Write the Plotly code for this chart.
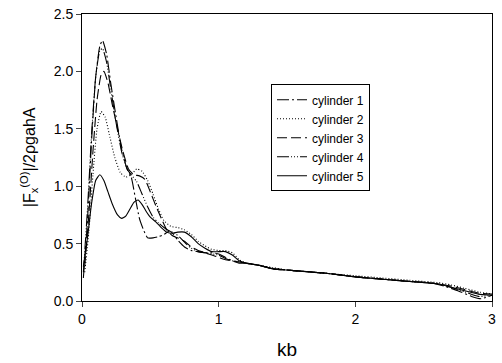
import plotly.graph_objects as go

# ---- data ----
kb1 = [0.01, 0.04, 0.07, 0.10, 0.13, 0.15, 0.18, 0.21, 0.25, 0.29, 0.33, 0.36, 0.39, 0.42, 0.45,
       0.48, 0.52, 0.56, 0.60, 0.64, 0.67, 0.70, 0.75, 0.80, 0.85, 0.90, 0.95, 1.00, 1.05, 1.10,
       1.15, 1.20, 1.30, 1.40, 1.50, 1.60, 1.80, 2.00, 2.20, 2.40, 2.55, 2.65, 2.75, 2.85, 2.92, 3.00]
F1 = [0.20, 0.70, 1.40, 1.95, 2.22, 2.27, 2.15, 1.90, 1.60, 1.32, 1.15, 1.08, 0.90, 0.72, 0.62,
      0.55, 0.55, 0.56, 0.58, 0.61, 0.58, 0.53, 0.47, 0.44, 0.43, 0.42, 0.42, 0.41, 0.38, 0.35,
      0.33, 0.33, 0.31, 0.28, 0.27, 0.26, 0.24, 0.21, 0.19, 0.17, 0.16, 0.13, 0.09, 0.04, 0.02, 0.05]

kb2 = [0.02, 0.05, 0.08, 0.11, 0.14, 0.17, 0.20, 0.24, 0.28, 0.32, 0.36, 0.40, 0.44, 0.48, 0.52,
       0.56, 0.60, 0.65, 0.70, 0.75, 0.80, 0.85, 0.90, 0.95, 1.00, 1.05, 1.10, 1.15, 1.20, 1.30,
       1.40, 1.50, 1.60, 1.80, 2.00, 2.20, 2.40, 2.60, 2.70, 2.80, 2.90, 3.00]
F2 = [0.25, 0.60, 1.10, 1.50, 1.65, 1.60, 1.45, 1.25, 1.12, 1.08, 1.10, 1.15, 1.13, 1.05, 0.93,
      0.80, 0.70, 0.65, 0.64, 0.62, 0.58, 0.52, 0.48, 0.45, 0.44, 0.44, 0.42, 0.36, 0.33, 0.31,
      0.29, 0.27, 0.26, 0.24, 0.22, 0.20, 0.18, 0.16, 0.14, 0.11, 0.08, 0.06]

kb3 = [0.02, 0.05, 0.08, 0.11, 0.14, 0.16, 0.19, 0.22, 0.26, 0.30, 0.34, 0.38, 0.42, 0.46, 0.50,
       0.54, 0.58, 0.62, 0.66, 0.70, 0.75, 0.80, 0.85, 0.90, 0.95, 1.00, 1.05, 1.10, 1.15, 1.20,
       1.30, 1.40, 1.50, 1.60, 1.80, 2.00, 2.20, 2.40, 2.60, 2.70, 2.80, 2.90, 3.00]
F3 = [0.30, 0.75, 1.30, 1.75, 1.97, 2.00, 1.90, 1.72, 1.50, 1.30, 1.15, 1.10, 1.09, 1.06, 0.95,
      0.83, 0.72, 0.62, 0.57, 0.55, 0.52, 0.47, 0.44, 0.42, 0.40, 0.38, 0.36, 0.35, 0.34, 0.33,
      0.31, 0.28, 0.27, 0.26, 0.24, 0.21, 0.19, 0.17, 0.15, 0.13, 0.10, 0.07, 0.06]

kb4 = [0.01, 0.04, 0.07, 0.10, 0.13, 0.15, 0.18, 0.21, 0.25, 0.29, 0.33, 0.36, 0.40, 0.44, 0.48,
       0.52, 0.56, 0.60, 0.64, 0.68, 0.72, 0.76, 0.80, 0.85, 0.90, 0.95, 1.00, 1.05, 1.10, 1.15,
       1.20, 1.30, 1.40, 1.50, 1.60, 1.80, 2.00, 2.20, 2.40, 2.60, 2.70, 2.80, 2.90, 3.00]
F4 = [0.25, 0.80, 1.45, 1.95, 2.18, 2.20, 2.08, 1.85, 1.55, 1.30, 1.15, 1.10, 1.04, 0.93, 0.82,
      0.73, 0.68, 0.64, 0.61, 0.59, 0.55, 0.50, 0.46, 0.43, 0.42, 0.41, 0.40, 0.37, 0.35, 0.34,
      0.33, 0.31, 0.28, 0.27, 0.26, 0.24, 0.21, 0.19, 0.17, 0.15, 0.12, 0.08, 0.04, 0.05]

kb5 = [0.01, 0.04, 0.07, 0.10, 0.13, 0.16, 0.19, 0.22, 0.26, 0.29, 0.32, 0.35, 0.38, 0.41, 0.44,
       0.47, 0.50, 0.54, 0.58, 0.62, 0.66, 0.70, 0.75, 0.80, 0.85, 0.90, 0.95, 1.00, 1.05, 1.10,
       1.15, 1.20, 1.30, 1.40, 1.50, 1.60, 1.80, 2.00, 2.20, 2.40, 2.60, 2.70, 2.80, 2.90, 3.00]
F5 = [0.30, 0.55, 0.85, 1.05, 1.10, 1.05, 0.95, 0.85, 0.75, 0.72, 0.74, 0.80, 0.86, 0.88, 0.84,
      0.78, 0.73, 0.69, 0.64, 0.60, 0.59, 0.60, 0.60, 0.56, 0.50, 0.46, 0.43, 0.43, 0.43, 0.40,
      0.35, 0.33, 0.31, 0.28, 0.27, 0.26, 0.24, 0.21, 0.19, 0.17, 0.15, 0.12, 0.09, 0.06, 0.05]

names = ["cylinder 1", "cylinder 2", "cylinder 3", "cylinder 4", "cylinder 5"]
x_ticks = [0, 1, 2, 3]
y_ticks = [0.0, 0.5, 1.0, 1.5, 2.0, 2.5]
y_ticklabels = ["0.0", "0.5", "1.0", "1.5", "2.0", "2.5"]

dashes = ["12px,3px,2px,3px", "1px,2px", "10px,4px",
          "12px,2px,1px,2px,1px,2px,1px,2px", "solid"]

fig = go.Figure()
for xs, ys, nm, ds in zip([kb1, kb2, kb3, kb4, kb5], [F1, F2, F3, F4, F5], names, dashes):
    fig.add_trace(go.Scatter(x=xs, y=ys, mode="lines", name=nm,
                             line=dict(color="black", width=1.1, dash=ds, shape="spline", smoothing=0.5)))

fig.update_layout(
    width=502, height=363,
    margin=dict(l=82, r=6, t=11, b=62),
    paper_bgcolor="white", plot_bgcolor="white",
    font=dict(family="Liberation Sans, Arial, sans-serif", color="black", size=14),
    showlegend=True,
    legend=dict(x=0.461, y=0.755, xanchor="left", yanchor="top",
                bordercolor="black", borderwidth=1, bgcolor="white",
                font=dict(size=12), itemwidth=30, tracegroupgap=0),
    xaxis=dict(range=[0, 3], tickvals=x_ticks, ticks="outside", ticklen=5,
               showline=True, linecolor="black", linewidth=1, mirror=True,
               showgrid=False, zeroline=False, tickfont=dict(size=14)),
    yaxis=dict(range=[0, 2.5], tickvals=y_ticks, ticktext=y_ticklabels,
               ticks="outside", ticklen=5,
               showline=True, linecolor="black", linewidth=1, mirror=True,
               showgrid=False, zeroline=False, tickfont=dict(size=14)),
    annotations=[
        dict(text="kb", xref="paper", yref="paper", x=0.5, y=-0.169,
             xanchor="center", yanchor="middle", showarrow=False,
             font=dict(size=19)),
        dict(text="|F<sub>x</sub><sup>(O)</sup>|/2ρgahA", xref="paper", yref="paper",
             x=-0.13, y=0.5, xanchor="center", yanchor="middle", textangle=-90,
             showarrow=False, font=dict(size=16)),
    ],
)

fig.write_html("out.html")
